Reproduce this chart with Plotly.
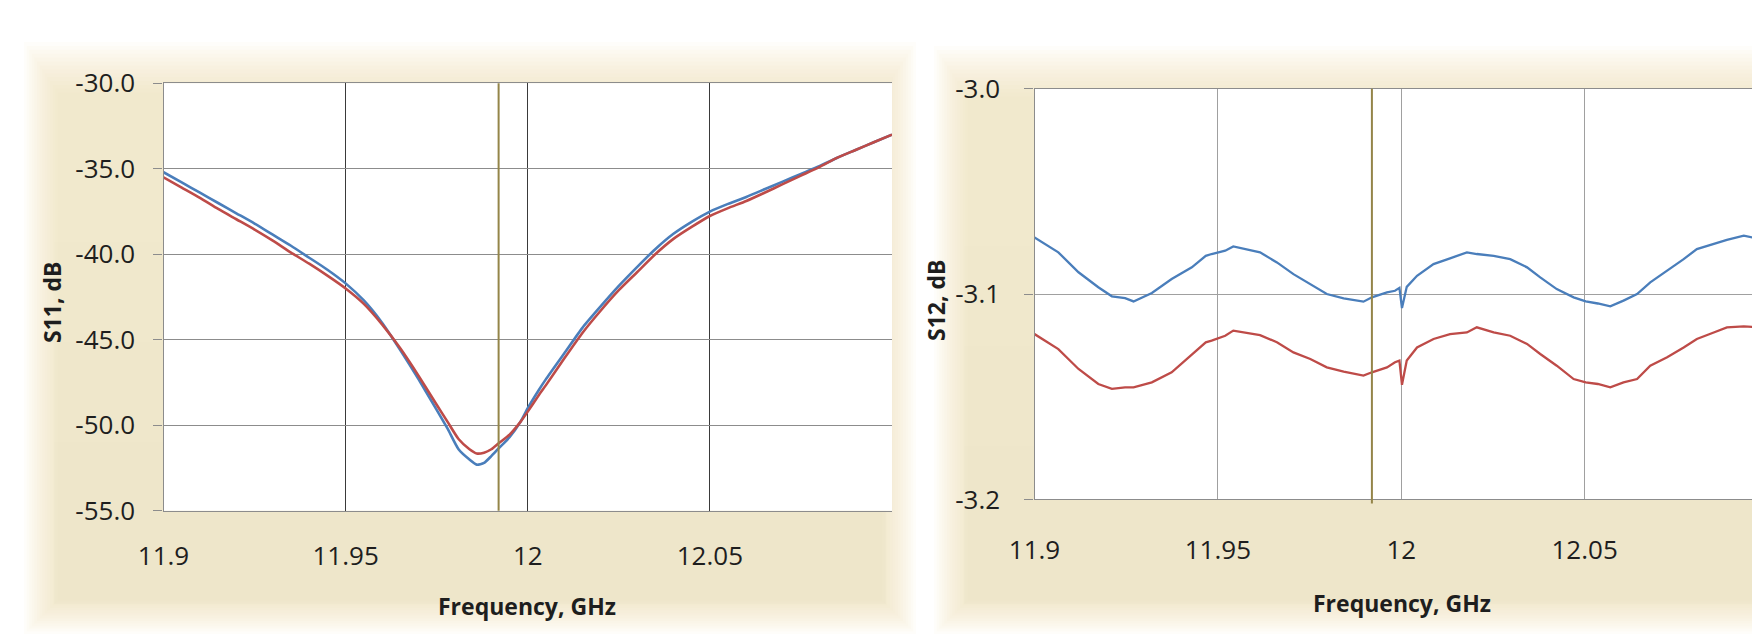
import plotly.graph_objects as go

W, H = 1760, 634
OFF = 8  # default page body margin

# ---------------- data ----------------
F11 = [11.900, 11.905, 11.910, 11.915, 11.920, 11.925, 11.930, 11.935, 11.940, 11.945,
       11.950, 11.955, 11.960, 11.965, 11.970, 11.975, 11.978, 11.981, 11.984, 11.986,
       11.988, 11.990, 11.992, 11.995, 11.998, 12.000, 12.003, 12.005, 12.010, 12.015,
       12.020, 12.025, 12.030, 12.035, 12.040, 12.045, 12.050, 12.055, 12.060, 12.065,
       12.070, 12.075, 12.080, 12.085, 12.090, 12.095, 12.100]
S11_BLUE = [-35.2, -35.8, -36.4, -37.0, -37.6, -38.2, -38.85, -39.5, -40.2, -40.9,
            -41.7, -42.7, -44.0, -45.6, -47.3, -49.1, -50.2, -51.4, -52.0, -52.3,
            -52.2, -51.8, -51.35, -50.7, -49.8, -49.0, -47.95, -47.3, -45.8, -44.3,
            -43.05, -41.85, -40.75, -39.7, -38.8, -38.1, -37.5, -37.05, -36.65, -36.2,
            -35.75, -35.3, -34.85, -34.35, -33.9, -33.45, -33.0]
S11_RED = [-35.5, -36.1, -36.7, -37.35, -37.95, -38.55, -39.2, -39.9, -40.55, -41.25,
           -42.0, -42.9, -44.1, -45.5, -47.1, -48.8, -49.8, -50.8, -51.4, -51.65,
           -51.6, -51.4, -51.05, -50.55, -49.8, -49.2, -48.25, -47.65, -46.1, -44.6,
           -43.3, -42.1, -41.05, -40.0, -39.1, -38.4, -37.76, -37.3, -36.88, -36.4,
           -35.9, -35.4, -34.9, -34.35, -33.9, -33.45, -33.0]

F12 = [11.9000, 11.9065, 11.9120, 11.9174, 11.9211, 11.9247, 11.9270, 11.9320, 11.9374, 11.9429,
       11.9467, 11.9483, 11.9520, 11.9542, 11.9615, 11.9661, 11.9706, 11.9752, 11.9797, 11.9843,
       11.9897, 11.9920, 11.9961, 11.9983, 11.9995, 12.0002, 12.0015, 12.0043, 12.0088, 12.0133,
       12.0179, 12.0206, 12.0252, 12.0297, 12.0343, 12.0379, 12.0424, 12.0470, 12.0503, 12.0536,
       12.0570, 12.0606, 12.0643, 12.0679, 12.0725, 12.0770, 12.0806, 12.0852, 12.0888, 12.0934,
       12.0979]
S12_BLUE = [-3.0724, -3.0797, -3.0894, -3.0967, -3.1011, -3.1020, -3.1036, -3.0995, -3.0927, -3.0870,
            -3.0814, -3.0805, -3.0789, -3.0768, -3.0797, -3.0846, -3.0903, -3.0951, -3.1000, -3.1021,
            -3.1037, -3.1016, -3.0992, -3.0984, -3.0970, -3.1068, -3.0965, -3.0911, -3.0854, -3.0826,
            -3.0797, -3.0805, -3.0814, -3.0830, -3.0870, -3.0919, -3.0976, -3.1016, -3.1036, -3.1046,
            -3.1060, -3.1032, -3.1000, -3.0943, -3.0886, -3.0830, -3.0781, -3.0757, -3.0736, -3.0716,
            -3.0732]
S12_RED = [-3.1195, -3.1268, -3.1365, -3.1438, -3.1462, -3.1454, -3.1454, -3.1430, -3.1381, -3.1292,
           -3.1235, -3.1227, -3.1203, -3.1178, -3.1200, -3.1235, -3.1284, -3.1316, -3.1357, -3.1378,
           -3.1397, -3.1381, -3.1357, -3.1332, -3.1324, -3.1442, -3.1324, -3.1260, -3.1219, -3.1195,
           -3.1187, -3.1162, -3.1187, -3.1203, -3.1243, -3.1292, -3.1349, -3.1414, -3.1430, -3.1438,
           -3.1454, -3.1430, -3.1414, -3.1349, -3.1308, -3.1260, -3.1219, -3.1187, -3.1162, -3.1157,
           -3.1162]

MARKER_FREQ = 11.992
X_TICKS = [11.9, 11.95, 12.0, 12.05]
X_TICK_TEXT = ["11.9", "11.95", "12", "12.05"]
Y11_TICKS = [-30, -35, -40, -45, -50, -55]
Y12_TICKS = [-3.0, -3.1, -3.2]

BLUE = "#4A7EBB"
RED = "#BE4B48"
OLIVE = "#948549"
FONT = "Open Sans"
TXT = "#1e1e1e"

# ---------------- geometry (page pixels) ----------------
L_PLOT = (163.5, 83.3, 892.0, 510.8)
R_PLOT = (1034.5, 88.7, 1768.0, 499.4)
L_PANEL = (24, 42, 916, 634)
R_PANEL = (934, 46, 1800, 634)


def px(x):
    return (x - OFF) / W


def py(y):
    return 1 - (y - OFF) / H


shapes = []


def panel(box, layers=14, step=2.6):
    x0, y0, x1, y1 = box
    for i in range(layers):
        d = i * step
        shapes.append(dict(type="rect", xref="paper", yref="paper", layer="below",
                           x0=px(x0 + d), x1=px(x1 - d), y0=py(y1 - d), y1=py(y0 + d * 1.5),
                           fillcolor="rgba(233,221,186,0.066)", line_width=0))
    # slightly deeper tone towards the lower part of the panel
    for i in range(3):
        shapes.append(dict(type="rect", xref="paper", yref="paper", layer="below",
                           x0=px(x0 + 30), x1=px(x1 - 30), y0=py(y1 - 30),
                           y1=py(y0 + 200 + i * 100),
                           fillcolor="rgba(233,221,186,0.025)", line_width=0))


panel(L_PANEL)
panel(R_PANEL)
for b in (L_PLOT, R_PLOT):
    shapes.append(dict(type="rect", xref="paper", yref="paper", layer="below",
                       x0=px(b[0]), x1=px(b[2]), y0=py(b[3]), y1=py(b[1]),
                       fillcolor="white", line_width=0))

fig = go.Figure()
fig.add_trace(go.Scatter(x=F11, y=S11_BLUE, mode="lines",
                         line=dict(color=BLUE, width=2.6, shape="spline", smoothing=0.6),
                         xaxis="x", yaxis="y", showlegend=False))
fig.add_trace(go.Scatter(x=F11, y=S11_RED, mode="lines",
                         line=dict(color=RED, width=2.6, shape="spline", smoothing=0.6),
                         xaxis="x", yaxis="y", showlegend=False))
fig.add_trace(go.Scatter(x=F12, y=S12_BLUE, mode="lines", line=dict(color=BLUE, width=2.3),
                         xaxis="x2", yaxis="y2", showlegend=False))
fig.add_trace(go.Scatter(x=F12, y=S12_RED, mode="lines", line=dict(color=RED, width=2.3),
                         xaxis="x2", yaxis="y2", showlegend=False))

# marker lines
shapes.append(dict(type="line", xref="x", yref="y domain", x0=MARKER_FREQ, x1=MARKER_FREQ,
                   y0=0, y1=1, line=dict(color=OLIVE, width=2), layer="above"))
shapes.append(dict(type="line", xref="x2", yref="y2 domain", x0=MARKER_FREQ, x1=MARKER_FREQ,
                   y0=-0.01, y1=1, line=dict(color=OLIVE, width=2), layer="above"))

tickfont = dict(family=FONT, size=26, color=TXT)
titlefont = dict(family=FONT, size=23, color=TXT, weight="bold")

common = dict(automargin=False, zeroline=False, fixedrange=True)

fig.update_layout(
    template="none",
    width=W, height=H,
    margin=dict(l=0, r=0, t=0, b=0, pad=0),
    paper_bgcolor="white",
    plot_bgcolor="rgba(0,0,0,0)",
    shapes=shapes,
    xaxis=dict(domain=[px(L_PLOT[0]), px(L_PLOT[2])], range=[11.9, 12.1], anchor="y",
               tickvals=X_TICKS, ticktext=X_TICK_TEXT, tickfont=tickfont,
               showgrid=True, gridcolor="#3a3a3a", gridwidth=1.3,
               showline=True, linecolor="#8c8c8c", linewidth=1.3, mirror=True,
               ticks="", ticklabelstandoff=22, **common),
    yaxis=dict(domain=[py(L_PLOT[3]), py(L_PLOT[1])], range=[-55, -30], anchor="x",
               tickvals=Y11_TICKS, ticktext=[f"{v:.1f}" for v in Y11_TICKS], tickfont=tickfont,
               showgrid=True, gridcolor="#8c8c8c", gridwidth=1.3,
               showline=True, linecolor="#8c8c8c", linewidth=1.3,
               ticks="outside", ticklen=9, tickcolor="#8c8c8c", tickwidth=1.3,
               ticklabelstandoff=13, **common),
    xaxis2=dict(domain=[px(R_PLOT[0]), px(R_PLOT[2])], range=[11.9, 12.1], anchor="y2",
                tickvals=X_TICKS, ticktext=X_TICK_TEXT, tickfont=tickfont,
                showgrid=True, gridcolor="#a0a0a0", gridwidth=1.2,
                showline=True, linecolor="#8c8c8c", linewidth=1.3, mirror=True,
                ticks="", ticklabelstandoff=27, **common),
    yaxis2=dict(domain=[py(R_PLOT[3]), py(R_PLOT[1])], range=[-3.2, -3.0], anchor="x2",
                tickvals=Y12_TICKS, ticktext=[f"{v:.1f}" for v in Y12_TICKS], tickfont=tickfont,
                showgrid=True, gridcolor="#a0a0a0", gridwidth=1.2,
                showline=True, linecolor="#8c8c8c", linewidth=1.3,
                ticks="outside", ticklen=9, tickcolor="#8c8c8c", tickwidth=1.3,
                ticklabelstandoff=19, **common),
    annotations=[
        dict(text="S11, dB", x=px(52), y=py(302), xref="paper", yref="paper", textangle=-90,
             showarrow=False, font=titlefont, xanchor="center", yanchor="middle"),
        dict(text="Frequency, GHz", x=px(527), y=py(606), xref="paper", yref="paper",
             showarrow=False, font=titlefont, xanchor="center", yanchor="middle"),
        dict(text="S12, dB", x=px(936), y=py(300), xref="paper", yref="paper", textangle=-90,
             showarrow=False, font=titlefont, xanchor="center", yanchor="middle"),
        dict(text="Frequency, GHz", x=px(1402), y=py(603), xref="paper", yref="paper",
             showarrow=False, font=titlefont, xanchor="center", yanchor="middle"),
    ],
)

fig.write_html("out.html")
